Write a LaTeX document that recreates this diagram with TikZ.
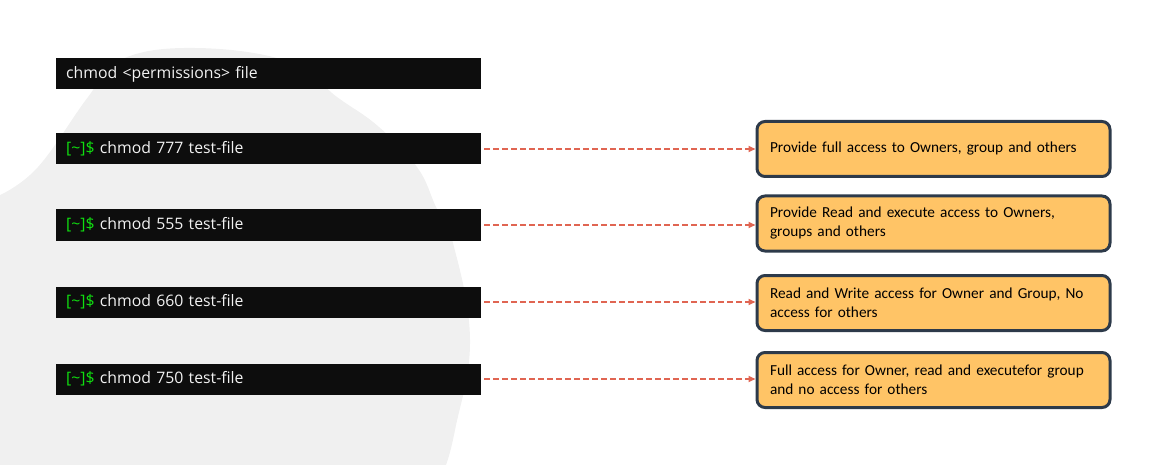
\documentclass[tikz,border=0pt]{standalone}
\usepackage{fontspec}
\usetikzlibrary{arrows.meta}
\newfontfamily\termfont{Open Sans}
\newfontfamily\notefont{Carlito}
\definecolor{termbg}{HTML}{0D0D0D}
\definecolor{termtxt}{HTML}{F2F2F2}
\definecolor{prompt}{HTML}{10E010}
\definecolor{notebg}{HTML}{FFC466}
\definecolor{noteline}{HTML}{2D3A4A}
\definecolor{linkred}{HTML}{E06552}
\definecolor{blobgray}{HTML}{F0F0F0}
\newcommand{\prompt}{\textcolor{prompt}{[\textasciitilde]\$}}
\begin{document}
\begin{tikzpicture}[x=1pt, y=-1pt,
  cmd/.style = {fill=termbg, text=termtxt, anchor=west,
    text width=405pt, align=left, inner xsep=10pt, inner ysep=0pt,
    minimum height=31pt, font=\termfont\fontsize{15.8}{18}\selectfont},
  note/.style = {draw=noteline, line width=3pt, fill=notebg,
    rounded corners=8pt, anchor=west, text width=327pt, align=left,
    inner xsep=13pt, inner ysep=0pt, minimum height=55pt,
    font=\notefont\fontsize{15.3}{19}\selectfont},
  link/.style = {linkred, line width=1.6pt, dash pattern=on 6pt off 3pt,
    -{Triangle[length=7pt,width=6pt]}, shorten <=3pt}]
  \useasboundingbox (0,0) rectangle (1167,465);
  % background blob
  \fill[blobgray] plot[smooth, tension=0.7] coordinates {(0,195) (38,167)
    (88,97) (120,60) (195,48) (290,62) (337,97) (379,127) (417,167)
    (436,207) (453,243) (470,340) (455,430) (446,465)} -- (0,465) -- cycle;
  % commands
  \node[cmd] (syntax) at (56,74) {chmod <permissions> file};
  \node[cmd] (c777) at (56,149) {\prompt\ chmod 777 test-file};
  \node[cmd] (c555) at (56,225) {\prompt\ chmod 555 test-file};
  \node[cmd] (c660) at (56,302) {\prompt\ chmod 660 test-file};
  \node[cmd] (c750) at (56,379) {\prompt\ chmod 750 test-file};
  % meanings
  \node[note] (n777) at (755.5,149) {Provide full access to Owners, group and others};
  \node[note] (n555) at (755.5,223.5) {Provide Read and execute access to Owners,\\groups and others};
  \node[note] (n660) at (755.5,303) {Read and Write access for Owner and Group, No\\access for others};
  \node[note] (n750) at (755.5,380) {Full access for Owner, read and executefor group\\and no access for others};
  \foreach \m in {777,555,660,750}
    \draw[link] (c\m.east) -- (c\m.east -| n\m.west);
\end{tikzpicture}
\end{document}
